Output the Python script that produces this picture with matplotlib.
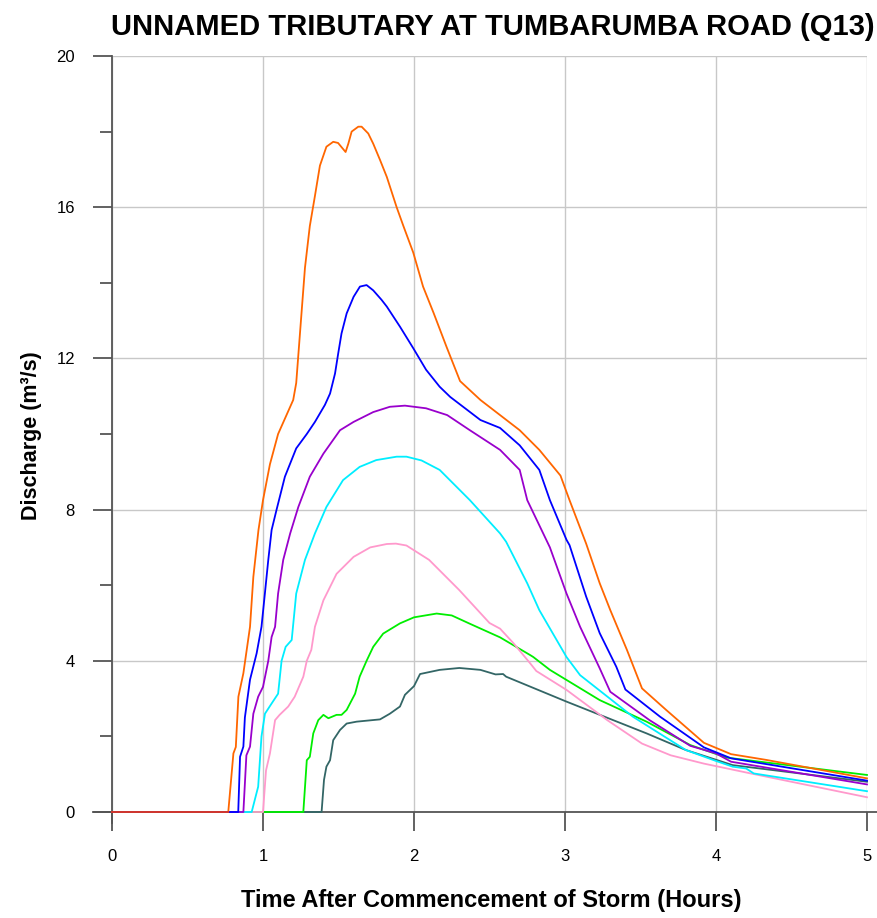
import matplotlib
matplotlib.use("Agg")
import matplotlib.pyplot as plt
from matplotlib.ticker import MultipleLocator, FixedLocator

plt.rcParams['font.family'] = ['Liberation Sans', 'DejaVu Sans']

title = "UNNAMED TRIBUTARY AT TUMBARUMBA ROAD (Q13)"
xlabel = "Time After Commencement of Storm (Hours)"
ylabel = "Discharge (m³/s)"
x_ticks = [0, 1, 2, 3, 4, 5]
y_ticks = [0, 4, 8, 12, 16, 20]

# Series data (time in hours, discharge in m3/s)
t_slate = [0, 1.388, 1.404, 1.42, 1.444, 1.465, 1.51, 1.554, 1.62, 1.775, 1.84, 1.907, 1.94, 2.0, 2.04,
           2.17, 2.3, 2.44, 2.54, 2.59, 2.61, 3.01, 3.54, 3.80, 4.11, 5.0]
q_slate = [0, 0, 0.85, 1.2, 1.37, 1.9, 2.17, 2.34, 2.39, 2.45, 2.6, 2.79, 3.1, 3.33, 3.65,
           3.76, 3.81, 3.76, 3.64, 3.65, 3.58, 2.92, 2.08, 1.64, 1.24, 0.80]

t_green = [0, 1.267, 1.29, 1.31, 1.333, 1.366, 1.4, 1.433, 1.487, 1.52, 1.554, 1.61, 1.64, 1.686, 1.73,
           1.796, 1.907, 2.0, 2.15, 2.25, 2.37, 2.57, 2.77, 2.79, 2.9, 3.23, 3.54, 3.83, 4.07, 5.0]
q_green = [0, 0, 1.37, 1.46, 2.08, 2.43, 2.57, 2.48, 2.57, 2.57, 2.7, 3.13, 3.58, 4.0, 4.37,
           4.72, 4.99, 5.15, 5.25, 5.2, 4.98, 4.62, 4.15, 4.1, 3.76, 2.96, 2.39, 1.77, 1.44, 0.98]

t_pink = [0, 1.0, 1.02, 1.046, 1.08, 1.11, 1.167, 1.21, 1.267, 1.29, 1.32, 1.344, 1.4, 1.487, 1.6, 1.71,
          1.82, 1.88, 1.95, 2.1, 2.3, 2.5, 2.57, 2.66, 2.77, 2.81, 3.01, 3.28, 3.51, 3.70, 3.92, 4.23, 5.0]
q_pink = [0, 0, 1.1, 1.55, 2.43, 2.57, 2.79, 3.05, 3.58, 4.0, 4.29, 4.9, 5.6, 6.3, 6.75, 7.0,
          7.09, 7.1, 7.05, 6.67, 5.87, 5.0, 4.85, 4.46, 3.93, 3.73, 3.23, 2.43, 1.81, 1.5, 1.28, 1.02, 0.39]

t_cyan = [0, 0.925, 0.968, 0.99, 1.013, 1.057, 1.1, 1.123, 1.15, 1.19, 1.22, 1.278, 1.344, 1.42, 1.53,
          1.64, 1.75, 1.885, 1.95, 2.05, 2.17, 2.37, 2.57, 2.61, 2.75, 2.83, 3.01, 3.1, 3.45, 3.8,
          4.0, 4.11, 4.2, 4.25, 5.0]
q_cyan = [0, 0, 0.67, 2.0, 2.6, 2.87, 3.13, 4.0, 4.37, 4.55, 5.78, 6.67, 7.37, 8.07, 8.78,
          9.13, 9.31, 9.4, 9.4, 9.3, 9.05, 8.25, 7.37, 7.15, 6.05, 5.34, 4.1, 3.62, 2.52, 1.64,
          1.35, 1.2, 1.15, 1.02, 0.55]

t_purple = [0, 0.87, 0.89, 0.914, 0.936, 0.968, 1.0, 1.035, 1.057, 1.08, 1.1, 1.134, 1.18, 1.234, 1.31,
            1.4, 1.51, 1.6, 1.73, 1.84, 1.94, 2.08, 2.22, 2.37, 2.57, 2.70, 2.75, 2.9, 3.01, 3.1,
            3.23, 3.30, 3.56, 3.83, 4.0, 4.1, 5.0]
q_purple = [0, 0, 1.5, 1.73, 2.6, 3.05, 3.31, 4.0, 4.63, 4.9, 5.78, 6.67, 7.37, 8.07, 8.87,
            9.48, 10.1, 10.32, 10.58, 10.72, 10.75, 10.68, 10.5, 10.1, 9.58, 9.05, 8.25, 7.0, 5.78, 4.9,
            3.8, 3.18, 2.43, 1.75, 1.55, 1.33, 0.73]

t_blue = [0, 0.836, 0.848, 0.87, 0.88, 0.914, 0.958, 0.99, 1.013, 1.035, 1.057, 1.09, 1.145, 1.22, 1.29,
          1.344, 1.41, 1.444, 1.477, 1.498, 1.52, 1.554, 1.6, 1.642, 1.686, 1.73, 1.785, 1.82, 1.907,
          1.995, 2.08, 2.17, 2.24, 2.44, 2.57, 2.70, 2.83, 2.9, 3.01, 3.03, 3.14, 3.23, 3.34, 3.40,
          3.63, 3.92, 4.1, 5.0]
q_blue = [0, 0, 1.46, 1.73, 2.5, 3.5, 4.2, 4.9, 5.8, 6.67, 7.46, 8.0, 8.87, 9.62, 10.0,
          10.32, 10.77, 11.07, 11.6, 12.13, 12.66, 13.19, 13.63, 13.9, 13.94, 13.8, 13.55, 13.37, 12.84,
          12.27, 11.7, 11.25, 10.98, 10.37, 10.16, 9.7, 9.05, 8.25, 7.2, 7.06, 5.7, 4.73, 3.84, 3.24,
          2.52, 1.71, 1.42, 0.83]

t_orange = [0, 0.77, 0.804, 0.82, 0.837, 0.87, 0.914, 0.936, 0.97, 1.0, 1.046, 1.1, 1.2, 1.22, 1.245,
            1.278, 1.31, 1.344, 1.377, 1.42, 1.465, 1.497, 1.547, 1.565, 1.587, 1.631, 1.653, 1.697,
            1.73, 1.775, 1.82, 1.885, 1.93, 1.995, 2.06, 2.13, 2.216, 2.305, 2.44, 2.57, 2.70, 2.83,
            2.97, 3.03, 3.14, 3.23, 3.3, 3.41, 3.51, 3.67, 3.92, 4.1, 4.33, 5.0]
q_orange = [0, 0, 1.55, 1.72, 3.05, 3.67, 4.9, 6.22, 7.46, 8.25, 9.2, 10.0, 10.9, 11.35, 12.67,
            14.4, 15.5, 16.3, 17.1, 17.6, 17.73, 17.7, 17.46, 17.68, 18.0, 18.13, 18.13, 17.95,
            17.68, 17.25, 16.8, 16.0, 15.5, 14.8, 13.9, 13.2, 12.3, 11.4, 10.9, 10.5, 10.1, 9.58,
            8.9, 8.25, 7.1, 6.05, 5.34, 4.29, 3.27, 2.7, 1.83, 1.53, 1.38, 0.89]

t_red = [0, 0.77]
q_red = [0, 0]

series = [
    (t_slate, q_slate, "#336666"),
    (t_green, q_green, "#00ee00"),
    (t_pink, q_pink, "#ff99cc"),
    (t_cyan, q_cyan, "#00eeff"),
    (t_purple, q_purple, "#9900cc"),
    (t_blue, q_blue, "#0000ff"),
    (t_orange, q_orange, "#ff6600"),
    (t_red, q_red, "#cc3333"),
]

fig = plt.figure(figsize=(8.77, 9.18), dpi=100)
ax = fig.add_axes([112/877, 1 - 812/918, 755/877, 756/918])

for t, q, c in series:
    ax.plot(t, q, color=c, lw=1.3, zorder=3, clip_on=False)

ax.set_xlim(0, 5)
ax.set_ylim(0, 20)
ax.xaxis.set_major_locator(FixedLocator(x_ticks))
ax.yaxis.set_major_locator(FixedLocator(y_ticks))
ax.yaxis.set_minor_locator(MultipleLocator(2))

ax.grid(True, which='major', color='#c8c8c8', lw=1.0, zorder=0)
for s in ['top', 'right', 'left', 'bottom']:
    ax.spines[s].set_visible(False)

spine_c = '#555555'
ax.plot([-0.126, 5.07], [0, 0], color=spine_c, lw=1.3, clip_on=False, zorder=2)
ax.plot([0, 0], [-0.29, 20], color=spine_c, lw=1.3, clip_on=False, zorder=2)

ax.tick_params(axis='both', which='major', length=13.7, width=1.3, color=spine_c,
               labelsize=12, labelcolor='black', pad=13)
ax.tick_params(axis='y', which='minor', length=8.6, width=1.3, color=spine_c)
ax.tick_params(axis='x', which='minor', length=0)

fig.text(493/877, 1 - 27/918, title, ha='center', va='center',
         fontsize=21, fontweight='bold')
fig.text(491/877, 1 - 900/918, xlabel, ha='center', va='center', fontsize=17, fontweight='bold')
fig.text(32/877, 1 - 436/918, ylabel, ha='center', va='center', rotation=90,
         fontsize=15.5, fontweight='bold')

fig.savefig("out.png", dpi=100)
